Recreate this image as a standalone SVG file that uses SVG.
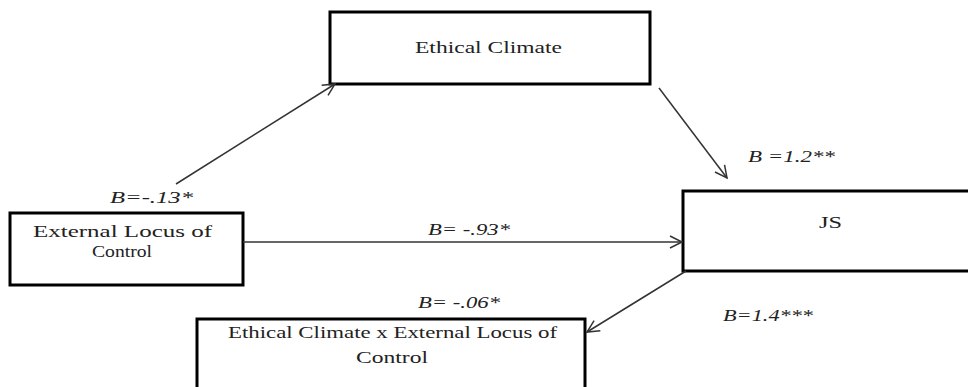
<svg xmlns="http://www.w3.org/2000/svg" width="968" height="387" viewBox="0 0 968 387">
<style>
.box{fill:#fff;stroke:#000;stroke-width:3}
.t{font-family:"Liberation Serif","Tinos","Times New Roman","DejaVu Serif",serif;font-size:17px;fill:#222}
.b{font-family:"Liberation Serif","Tinos","Times New Roman","DejaVu Serif",serif;font-size:17px;font-style:italic;fill:#222}
.c{stroke:#333;stroke-width:1.5;fill:none;marker-end:url(#ah)}
</style>
<defs>
<marker id="ah" markerUnits="userSpaceOnUse" markerWidth="16" markerHeight="16" refX="13" refY="7" orient="auto">
<path d="M1,1 L13,7 L1,13" fill="none" stroke="#333" stroke-width="1.5"/>
</marker>
</defs>
<rect width="968" height="387" fill="#fff"/>
<g id="ethical-climate">
<rect class="box" x="330" y="12" width="320" height="72"/>
<text class="t" x="415" y="53" textLength="147" lengthAdjust="spacingAndGlyphs">Ethical Climate</text>
</g>
<g id="external-locus">
<rect class="box" x="10" y="213" width="233" height="72"/>
<text class="t" x="33" y="237" textLength="179" lengthAdjust="spacingAndGlyphs">External Locus of</text>
<text class="t" x="92" y="257" textLength="60" lengthAdjust="spacingAndGlyphs">Control</text>
</g>
<g id="js">
<rect class="box" x="683" y="191" width="300" height="80"/>
<text class="t" x="819" y="228" textLength="23" lengthAdjust="spacingAndGlyphs">JS</text>
</g>
<g id="interaction">
<rect class="box" x="197" y="319" width="388" height="80"/>
<text class="t" x="228" y="338" textLength="329" lengthAdjust="spacingAndGlyphs">Ethical Climate x External Locus of</text>
<text class="t" x="356" y="363" textLength="72" lengthAdjust="spacingAndGlyphs">Control</text>
</g>
<g id="connectors">
<line class="c" x1="176" y1="184" x2="335" y2="84"/>
<line class="c" x1="243" y1="242" x2="682" y2="242"/>
<line class="c" x1="659" y1="88" x2="727" y2="178"/>
<line class="c" x1="686" y1="271" x2="587" y2="332"/>
<text class="b" x="110" y="203" textLength="83" lengthAdjust="spacingAndGlyphs">B=-.13*</text>
<text class="b" x="428" y="235" textLength="82" lengthAdjust="spacingAndGlyphs">B= -.93*</text>
<text class="b" x="748" y="162" textLength="87" lengthAdjust="spacingAndGlyphs">B =1.2**</text>
<text class="b" x="418" y="308" textLength="82" lengthAdjust="spacingAndGlyphs">B= -.06*</text>
<text class="b" x="723" y="321" textLength="90" lengthAdjust="spacingAndGlyphs">B=1.4***</text>
</g>
</svg>
